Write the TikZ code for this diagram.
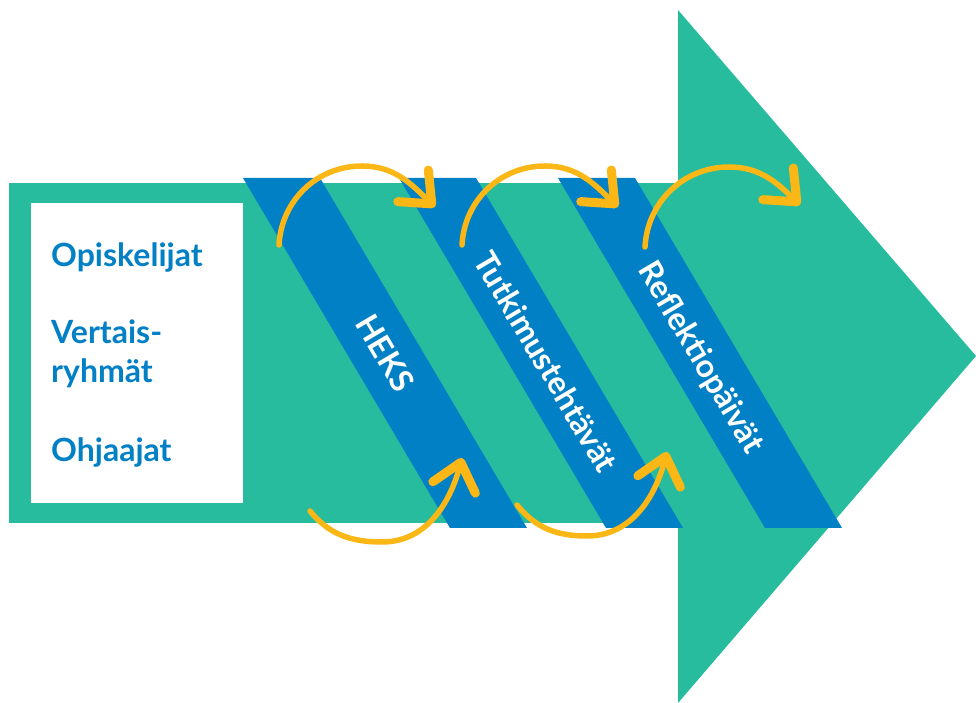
\documentclass[tikz,border=0pt]{standalone}
\usepackage{fontspec}
\setmainfont{Lato}
\usetikzlibrary{arrows.meta}
\definecolor{flowgreen}{RGB}{38,188,157}
\definecolor{stageblue}{RGB}{2,128,198}
\definecolor{loopyellow}{RGB}{251,183,21}

\tikzset{
  stageband/.style={fill=stageblue},
  stagetext/.style={text=white, font=\bfseries\fontsize{32}{36}\selectfont, rotate=-59.4, text height=23pt, text depth=0pt, inner sep=0pt},
  roletext/.style={text=stageblue, font=\bfseries\fontsize{32}{40}\selectfont, anchor=base west, inner sep=0pt},
  cyclearrow/.style={draw=loopyellow, line width=5.5pt, line cap=round, -{Straight Barb[length=26pt,width=44pt,line width=9pt,round]}}
}

\begin{document}
\begin{tikzpicture}[x=1pt,y=1pt]
\useasboundingbox (0,0) rectangle (976,703);
% big arrow
\fill[flowgreen] (9,180) rectangle (678,520);
\fill[flowgreen] (678,693) -- (976,347) -- (678,0) -- cycle;
% who takes part
\fill[white] (31,200) rectangle (243,500);
\node[roletext] (opis) at (51,436) {Opiskelijat};
\node[roletext] (vert) at (51,359) {Vertais-};
\node[roletext] (ryhm) at (51,320) {ryhmät};
\node[roletext] (ohja) at (51,241) {Ohjaajat};
% stages
\fill[stageband] (243,525) -- (320,525) -- (527,175) -- (450,175) -- cycle;
\fill[stageband] (399,525) -- (476,525) -- (683,175) -- (606,175) -- cycle;
\fill[stageband] (558,525) -- (635,525) -- (842,175) -- (765,175) -- cycle;
\node[stagetext] (heks) at (385,350) {HEKS};
\node[stagetext] (tutk) at (546,341) {Tutkimustehtävät};
\node[stagetext] (refl) at (702,346) {Reflektiopäivät};
% loops over the stages
\coordinate (startA) at (279,458);
\coordinate (crestA) at (362,537);
\coordinate (tipA) at (435,496);
\coordinate (startB) at (462,458);
\coordinate (crestB) at (545,537);
\coordinate (tipB) at (618,496);
\coordinate (startC) at (645,456);
\coordinate (crestC) at (729,536);
\coordinate (tipC) at (800,498);
\coordinate (startD) at (310,192);
\coordinate (dipD) at (382,161);
\coordinate (tipD) at (462,245);
\coordinate (startE) at (517,198);
\coordinate (dipE) at (587,167);
\coordinate (tipE) at (667,251);
\draw[cyclearrow] (startA) to[out=87, in=180] (crestA) to[out=0, in=136] (tipA);
\draw[cyclearrow] (startB) to[out=87, in=180] (crestB) to[out=0, in=136] (tipB);
\draw[cyclearrow] (startC) to[out=87, in=180] (crestC) to[out=0, in=136] (tipC);
\draw[cyclearrow] (startD) to[out=-51, in=180] (dipD) to[out=0, in=255] (tipD);
\draw[cyclearrow] (startE) to[out=-51, in=180] (dipE) to[out=0, in=255] (tipE);
\end{tikzpicture}
\end{document}
